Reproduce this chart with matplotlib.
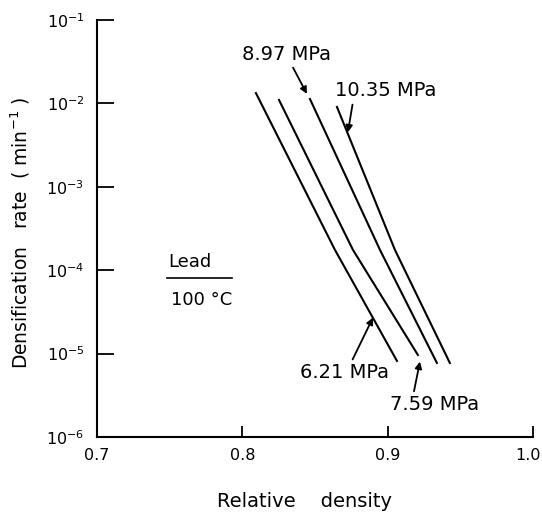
"""Densification rate vs relative density for lead at 100 C."""

import matplotlib

matplotlib.use("Agg")
import matplotlib.pyplot as plt
import matplotlib.transforms as mtransforms
from matplotlib.ticker import LogLocator, NullLocator

PRESSURES = ["6.21 MPa", "7.59 MPa", "8.97 MPa", "10.35 MPa"]

density_621 = [0.8094, 0.8638, 0.9065]
rate_621 = [1.33e-2, 1.75e-4, 8.15e-6]

density_759 = [0.8253, 0.8762, 0.9209]
rate_759 = [1.10e-2, 1.75e-4, 9.61e-6]

density_897 = [0.8466, 0.8948, 0.9340]
rate_897 = [1.13e-2, 1.75e-4, 7.71e-6]

density_1035 = [0.8652, 0.9051, 0.9429]
rate_1035 = [9.06e-3, 1.75e-4, 7.71e-6]

X_TICKS = [0.7, 0.8, 0.9, 1.0]
X_TICK_LABELS = ["0.7", "0.8", "0.9", "1.0"]

plt.rcParams["font.family"] = ["DejaVu Sans"]

fig = plt.figure(figsize=(5.42, 5.14), dpi=100)
ax = fig.add_axes([0.179, 0.150, 0.804, 0.811])

series = [
    (density_621, rate_621),
    (density_759, rate_759),
    (density_897, rate_897),
    (density_1035, rate_1035),
]
for xs, ys in series:
    ax.plot(xs, ys, color="black", lw=1.5)

ax.set_yscale("log")
ax.set_xlim(0.7, 1.0)
ax.set_ylim(1e-6, 1e-1)
ax.spines["top"].set_visible(False)
ax.spines["right"].set_visible(False)
ax.spines["left"].set_linewidth(1.5)
ax.spines["bottom"].set_linewidth(1.5)

ax.set_xticks(X_TICKS)
ax.set_xticklabels(X_TICK_LABELS)
ax.yaxis.set_major_locator(LogLocator(base=10, numticks=10))
ax.yaxis.set_minor_locator(NullLocator())
ax.tick_params(axis="y", direction="in", length=12, width=1.3, pad=9, labelsize=11.5)
ax.tick_params(axis="x", direction="in", length=8, width=1.3, pad=8, labelsize=11.5)
last = ax.get_xticklabels()[-1]
last.set_horizontalalignment("right")
last.set_transform(last.get_transform()
                   + mtransforms.ScaledTranslation(6 / 72, 0, fig.dpi_scale_trans))

ax.set_xlabel("Relative    density", fontsize=14)
ax.set_ylabel("Densification   rate  ( min$^{-1}$ )", fontsize=13.5)
ax.xaxis.set_label_coords(0.475, -0.132)
ax.yaxis.set_label_coords(-0.15, 0.49)


def arrow(relpos):
    return dict(arrowstyle="-|>", color="black", lw=1.3, mutation_scale=10,
                relpos=relpos, shrinkA=1, shrinkB=0)


ax.annotate("8.97 MPa", xy=(0.8445, 1.3e-2), xytext=(0.7998, 3.9e-2),
            fontsize=14, ha="left", va="center", arrowprops=arrow((0.55, 0)))
ax.annotate("10.35 MPa", xy=(0.8727, 4.5e-3), xytext=(0.8638, 1.41e-2),
            fontsize=14, ha="left", va="center", arrowprops=arrow((0.18, 0)))
ax.annotate("6.21 MPa", xy=(0.8900, 2.7e-5), xytext=(0.8397, 5.85e-6),
            fontsize=14, ha="left", va="center", arrowprops=arrow((0.57, 1)))
ax.annotate("7.59 MPa", xy=(0.9223, 8.0e-6), xytext=(0.9017, 2.42e-6),
            fontsize=14, ha="left", va="center", arrowprops=arrow((0.26, 1)))

ax.text(0.7490, 1.26e-4, "Lead", fontsize=13, ha="left", va="center")
ax.plot([0.7480, 0.7930], [8.05e-5, 8.05e-5], color="black", lw=1.2)
ax.text(0.7510, 4.4e-5, "100 °C", fontsize=13, ha="left", va="center")

fig.savefig("out.png", dpi=100)
